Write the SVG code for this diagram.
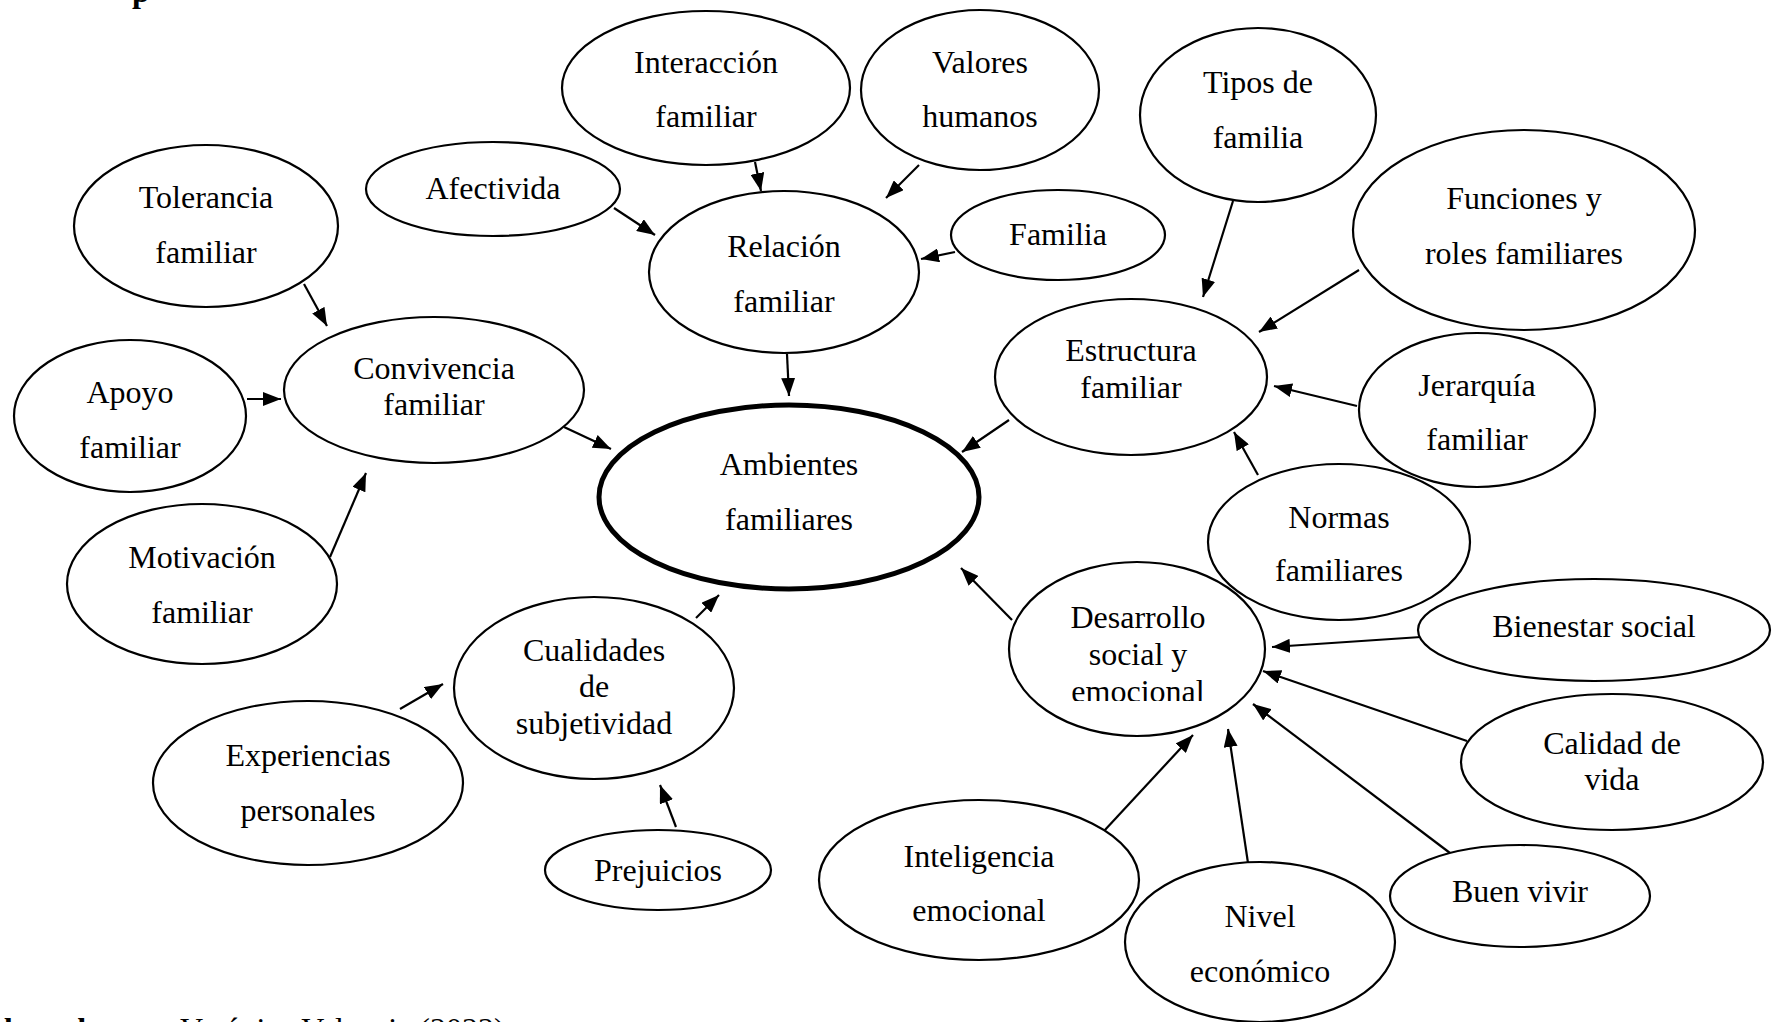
<svg xmlns="http://www.w3.org/2000/svg" width="1779" height="1022" viewBox="0 0 1779 1022">
<style>
.n ellipse{fill:#fff;stroke:#000;stroke-width:2.2}
.n.main ellipse{stroke-width:5}
text{font-family:"Liberation Serif","Times New Roman",serif;font-size:32px;fill:#000}
.n text{text-anchor:middle}
.c line{stroke:#000;stroke-width:2.2;marker-end:url(#ah)}
.b{font-weight:bold}
</style>
<defs>
<marker id="ah" viewBox="0 0 18 14" refX="18" refY="7" markerWidth="18" markerHeight="14" markerUnits="userSpaceOnUse" orient="auto">
<path d="M0,0 L18,7 L0,14 z" fill="#000"/>
</marker>
<clipPath id="clipDes"><rect x="1000" y="560" width="280" height="141"/></clipPath>
</defs>
<rect width="1779" height="1022" fill="#fff"/>
<text class="b" x="132" y="2">p</text>

<g class="c" id="connectors">
<line x1="755" y1="162" x2="761" y2="191"/>
<line x1="919" y1="165" x2="886" y2="198"/>
<line x1="614" y1="208" x2="655" y2="235"/>
<line x1="955" y1="252" x2="921" y2="259"/>
<line x1="787" y1="354" x2="789" y2="396"/>
<line x1="304" y1="284" x2="327" y2="326"/>
<line x1="247" y1="399" x2="281" y2="399"/>
<line x1="330" y1="557" x2="366" y2="473"/>
<line x1="564" y1="427" x2="611" y2="449"/>
<line x1="696" y1="618" x2="719" y2="595"/>
<line x1="400" y1="709" x2="443" y2="684"/>
<line x1="676" y1="827" x2="660" y2="785"/>
<line x1="1233" y1="201" x2="1203" y2="297"/>
<line x1="1359" y1="270" x2="1259" y2="332"/>
<line x1="1357" y1="406" x2="1274" y2="386"/>
<line x1="1258" y1="475" x2="1234" y2="432"/>
<line x1="1009" y1="420" x2="962" y2="452"/>
<line x1="1012" y1="620" x2="961" y2="568"/>
<line x1="1421" y1="637" x2="1272" y2="647"/>
<line x1="1467" y1="741" x2="1263" y2="671"/>
<line x1="1450" y1="853" x2="1253" y2="704"/>
<line x1="1248" y1="863" x2="1228" y2="729"/>
<line x1="1104" y1="831" x2="1193" y2="735"/>
</g>

<g class="n" id="interaccion"><ellipse cx="706" cy="88" rx="144" ry="77"/><text x="706" y="73">Interacción</text><text x="706" y="127">familiar</text></g>
<g class="n" id="valores"><ellipse cx="980" cy="90" rx="119" ry="80"/><text x="980" y="73">Valores</text><text x="980" y="127">humanos</text></g>
<g class="n" id="afectivida"><ellipse cx="493" cy="189" rx="127" ry="47"/><text x="493" y="199">Afectivida</text></g>
<g class="n" id="relacion"><ellipse cx="784" cy="272" rx="135" ry="81"/><text x="784" y="257">Relación</text><text x="784" y="312">familiar</text></g>
<g class="n" id="familia"><ellipse cx="1058" cy="235" rx="107" ry="45"/><text x="1058" y="245">Familia</text></g>
<g class="n" id="tipos"><ellipse cx="1258" cy="115" rx="118" ry="87"/><text x="1258" y="93">Tipos de</text><text x="1258" y="148">familia</text></g>
<g class="n" id="funciones"><ellipse cx="1524" cy="230" rx="171" ry="100"/><text x="1524" y="209">Funciones y</text><text x="1524" y="264">roles familiares</text></g>
<g class="n" id="tolerancia"><ellipse cx="206" cy="226" rx="132" ry="81"/><text x="206" y="208">Tolerancia</text><text x="206" y="263">familiar</text></g>
<g class="n" id="convivencia"><ellipse cx="434" cy="390" rx="150" ry="73"/><text x="434" y="379">Convivencia</text><text x="434" y="415">familiar</text></g>
<g class="n" id="apoyo"><ellipse cx="130" cy="416" rx="116" ry="76"/><text x="130" y="403">Apoyo</text><text x="130" y="458">familiar</text></g>
<g class="n" id="motivacion"><ellipse cx="202" cy="584" rx="135" ry="80"/><text x="202" y="568">Motivación</text><text x="202" y="623">familiar</text></g>
<g class="n main" id="ambientes"><ellipse cx="789" cy="497" rx="190" ry="92"/><text x="789" y="475">Ambientes</text><text x="789" y="530">familiares</text></g>
<g class="n" id="estructura"><ellipse cx="1131" cy="377" rx="136" ry="78"/><text x="1131" y="361">Estructura</text><text x="1131" y="398">familiar</text></g>
<g class="n" id="jerarquia"><ellipse cx="1477" cy="410" rx="118" ry="77"/><text x="1477" y="396">Jerarquía</text><text x="1477" y="450">familiar</text></g>
<g class="n" id="normas"><ellipse cx="1339" cy="542" rx="131" ry="78"/><text x="1339" y="528">Normas</text><text x="1339" y="581">familiares</text></g>
<g class="n" id="desarrollo"><ellipse cx="1137" cy="649" rx="128" ry="87"/><g clip-path="url(#clipDes)"><text x="1138" y="628">Desarrollo</text><text x="1138" y="665">social y</text><text x="1138" y="702">emocional</text></g></g>
<g class="n" id="bienestar"><ellipse cx="1594" cy="630" rx="176" ry="51"/><text x="1594" y="637">Bienestar social</text></g>
<g class="n" id="calidad"><ellipse cx="1612" cy="762" rx="151" ry="68"/><text x="1612" y="754">Calidad de</text><text x="1612" y="790">vida</text></g>
<g class="n" id="buenvivir"><ellipse cx="1520" cy="896" rx="130" ry="51"/><text x="1520" y="902">Buen vivir</text></g>
<g class="n" id="nivel"><ellipse cx="1260" cy="942" rx="135" ry="80"/><text x="1260" y="927">Nivel</text><text x="1260" y="982">económico</text></g>
<g class="n" id="inteligencia"><ellipse cx="979" cy="880" rx="160" ry="80"/><text x="979" y="867">Inteligencia</text><text x="979" y="921">emocional</text></g>
<g class="n" id="cualidades"><ellipse cx="594" cy="688" rx="140" ry="91"/><text x="594" y="661">Cualidades</text><text x="594" y="697">de</text><text x="594" y="734">subjetividad</text></g>
<g class="n" id="experiencias"><ellipse cx="308" cy="783" rx="155" ry="82"/><text x="308" y="766">Experiencias</text><text x="308" y="821">personales</text></g>
<g class="n" id="prejuicios"><ellipse cx="658" cy="870" rx="113" ry="40"/><text x="658" y="881">Prejuicios</text></g>

<text x="-42" y="1040"><tspan class="b">Elaborado por:</tspan><tspan x="180">Verónica Valencia (2022)</tspan></text>
</svg>
